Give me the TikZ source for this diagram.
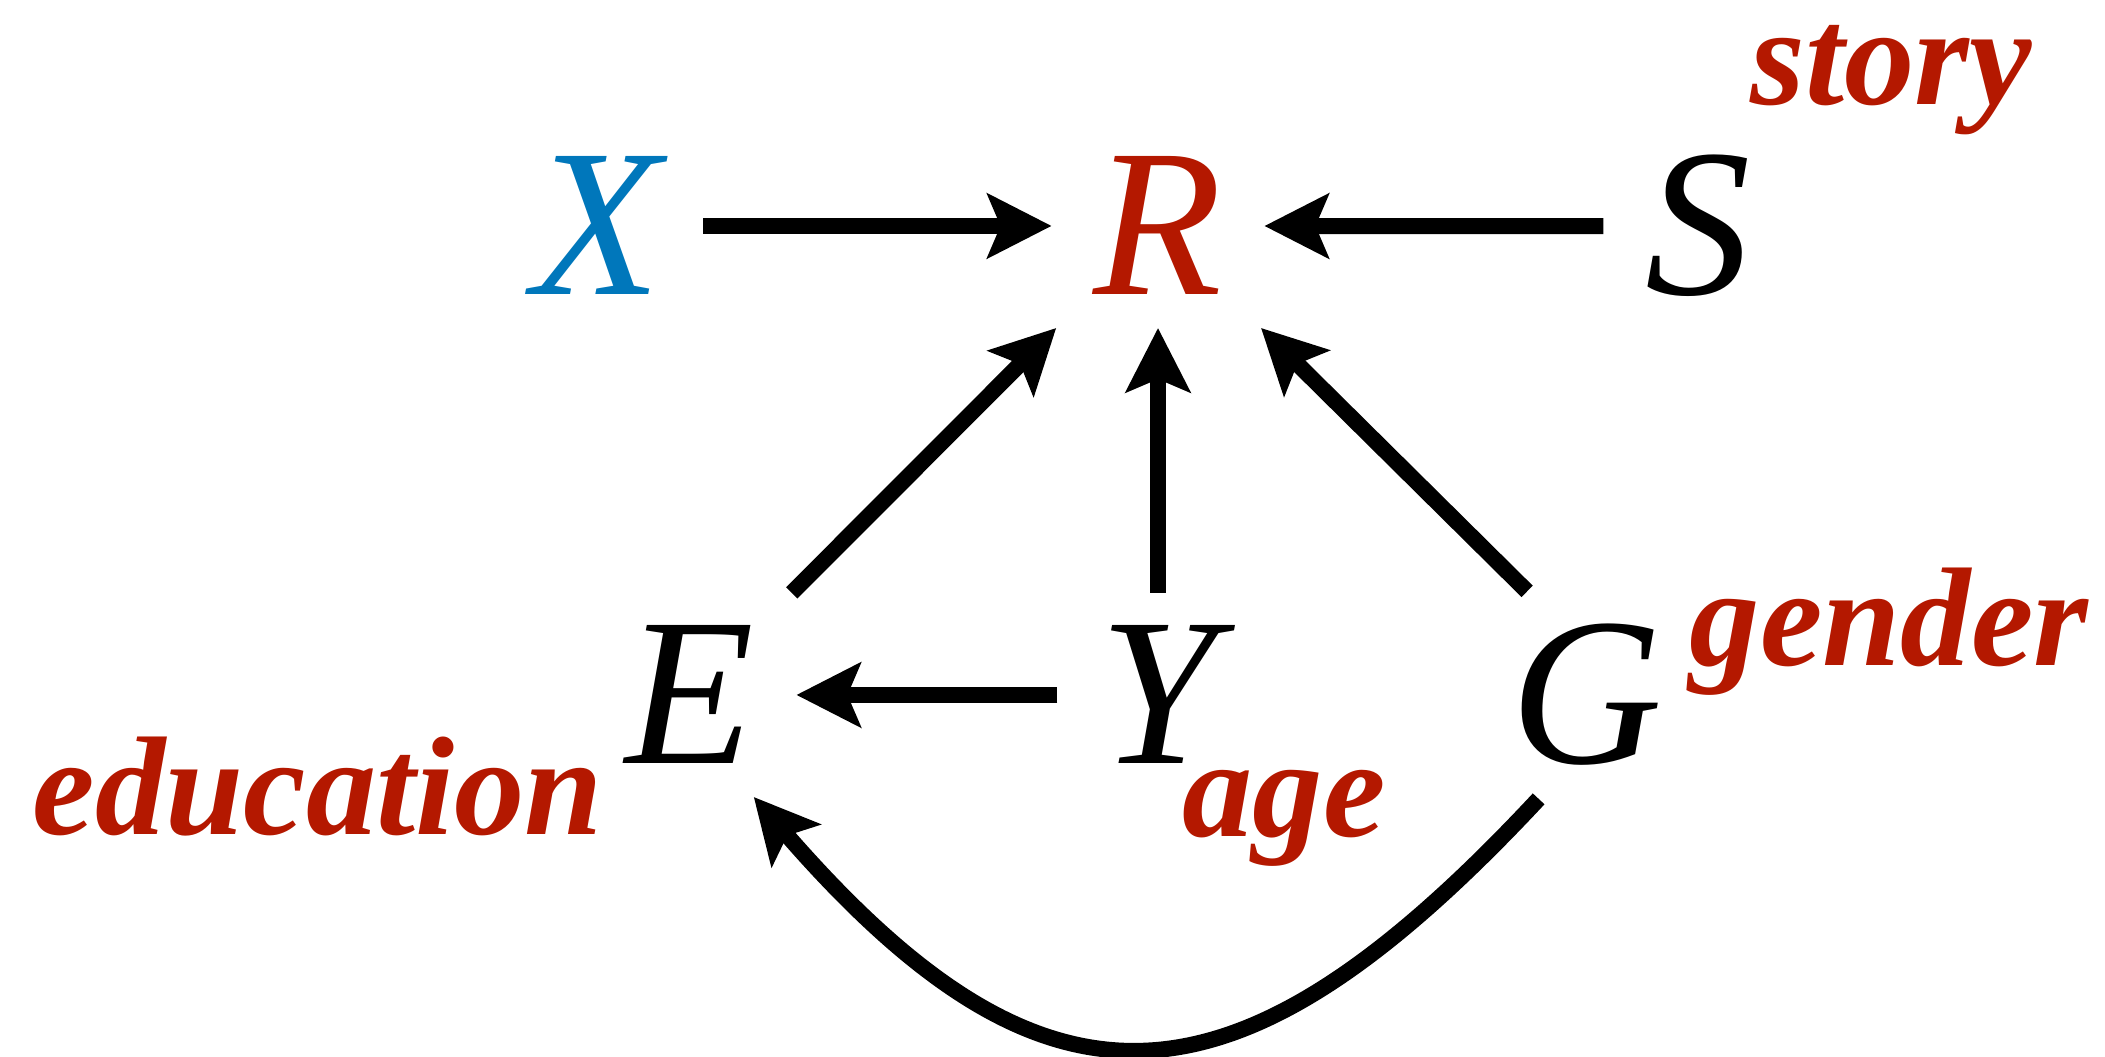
\documentclass[tikz,border=0pt]{standalone}
\usepackage{fontspec}
\setmainfont{Liberation Serif}
\usepackage{tikz}
\usetikzlibrary{arrows.meta}
\definecolor{xblue}{RGB}{0,119,187}
\definecolor{labred}{RGB}{180,24,0}

\begin{document}
\begin{tikzpicture}[x=1cm,y=1cm,
  var/.style={font=\fontsize{60}{60}\selectfont\itshape,inner sep=0pt,outer xsep=4.2mm,outer ysep=3.3mm,anchor=base},
  lab/.style={font=\fontsize{40}{40}\selectfont\bfseries\itshape,text=labred,inner sep=0pt,anchor=base},
  arr/.style={-{Stealth[length=6.4mm,width=6.4mm,inset=1.3mm]},line width=1.6mm}]
 \useasboundingbox (0,0) rectangle (21.05,10.57);
 % ---- variables ----
 \node[var,text=xblue] (X) at (5.97,7.62) {X};
 \node[var,text=labred] (R) at (11.58,7.62) {R};
 \node[var] (S) at (16.98,7.62) {S};
 \node[var] (E) at (6.90,2.93) {E};
 \node[var] (Y) at (11.58,2.93) {Y};
 \node[var] (G) at (15.87,2.93) {G};
 % ---- labels ----
 \node[lab] (story) at (18.91,9.52) {story};
 \node[lab] (gender) at (18.89,3.91) {gender};
 \node[lab] (educ) at (3.18,2.22) {education};
 \node[lab] (age) at (12.84,2.20) {age};
 % ---- arrows ----
 \draw[arr] (X) -- (R);
 \draw[arr] (S) -- (R);
 \draw[arr] (E) -- (R);
 \draw[arr] (Y) -- (R);
 \draw[arr] (G.120) -- (R);
 \draw[arr] (Y) -- (E);
 \draw[arr] (G.-115) to[out=-133,in=-49,looseness=1.45] (E.-58);
\end{tikzpicture}
\end{document}
